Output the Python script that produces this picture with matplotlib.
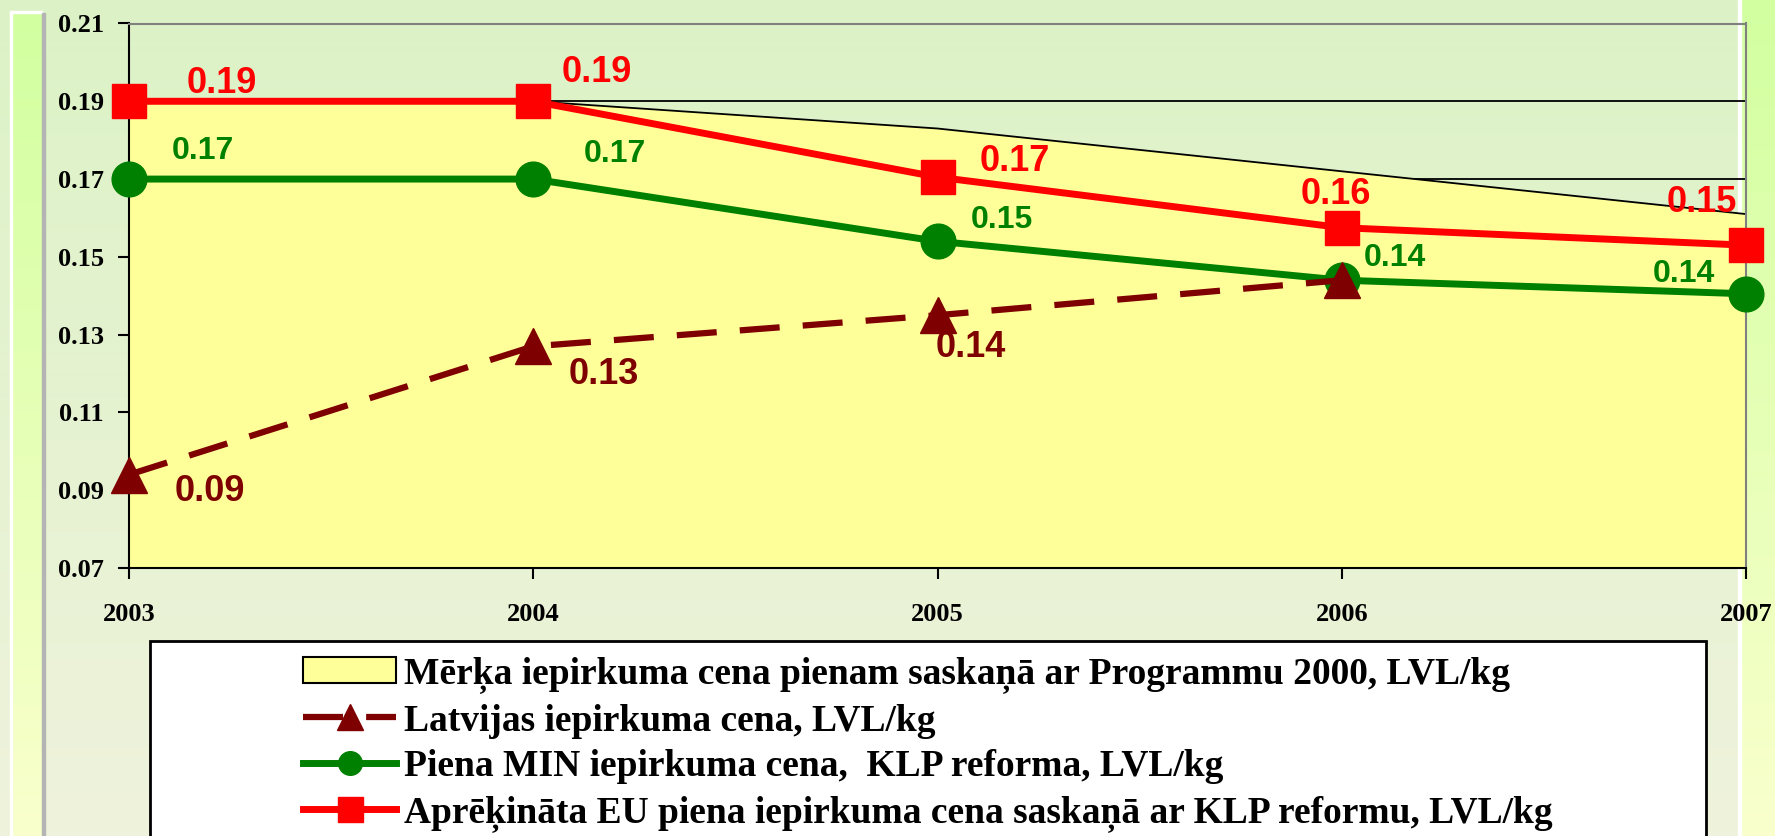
import numpy as np
import matplotlib
matplotlib.use("Agg")
import matplotlib.pyplot as plt
from matplotlib.colors import to_rgb
from matplotlib.patches import Rectangle, Patch
from matplotlib.lines import Line2D
from matplotlib.font_manager import FontProperties

# data
years = [2003, 2004, 2005, 2006, 2007]
target_price = [0.19, 0.19, 0.183, 0.172, 0.161]
latvia_years = [2003, 2004, 2005, 2006]
latvia_price = [0.094, 0.127, 0.135, 0.144]
min_price = [0.17, 0.17, 0.154, 0.144, 0.1405]
eu_price = [0.19, 0.19, 0.1705, 0.1575, 0.153]

latvia_labels = ["0.09", "0.13", "0.14"]
min_labels = ["0.17", "0.17", "0.15", "0.14", "0.14"]
eu_labels = ["0.19", "0.19", "0.17", "0.16", "0.15"]

legend_labels = [
    "Mērķa iepirkuma cena pienam saskaņā ar Programmu 2000, LVL/kg",
    "Latvijas iepirkuma cena, LVL/kg",
    "Piena MIN iepirkuma cena,  KLP reforma, LVL/kg",
    "Aprēķināta EU piena iepirkuma cena saskaņā ar KLP reformu, LVL/kg",
]

# label offsets in points (dx, dy)
latvia_off = [(58, -12), (51, -20), (24, -23)]
min_off = [(53, 20), (59, 18), (46, 15), (38, 16), (-45, 14)]
eu_off = [(67, 13), (46, 21), (56, 11), (-4, 24), (-32, 31)]

W, H = 1775, 836
fig = plt.figure(figsize=(W / 100, H / 100), dpi=100)


def vgrad(c_top, c_bot, n=200):
    t = np.linspace(0, 1, n)[:, None]
    g = np.array(to_rgb(c_top)) * (1 - t) + np.array(to_rgb(c_bot)) * t
    return g.reshape(n, 1, 3)


# slide background
bg = fig.add_axes([0, 0, 1, 1], zorder=-10)
bg.set_axis_off()
bg.imshow(vgrad("#dcf2c6", "#eff2dc"), extent=[0, W, H, 0], aspect="auto")
bg.imshow(vgrad("#d2ffa0", "#f9ffcc"), extent=[12, 42, H, 13], aspect="auto")
bg.imshow(vgrad("#d2ffa0", "#f9ffcc"), extent=[1741, W, H, 0], aspect="auto")
bg.add_patch(Rectangle((10, 11), 2, H, color="white"))
bg.add_patch(Rectangle((10, 11), 32, 2, color="white"))
bg.add_patch(Rectangle((42, 13), 2.5, H, color="#b4b4b4"))
bg.add_patch(Rectangle((1738, 0), 3, H, color="white"))
bg.set_xlim(0, W)
bg.set_ylim(H, 0)

ax = fig.add_axes([129 / W, 1 - 568 / H, (1746 - 129) / W, (568 - 23.5) / H])
ax.set_facecolor("none")
ax.set_xlim(2003, 2007)
ax.set_ylim(0.07, 0.21)
ax.set_xticks(years)
ax.set_yticks(np.arange(0.07, 0.2101, 0.02))
ax.yaxis.set_major_formatter(matplotlib.ticker.FormatStrFormatter("%.2f"))
ax.yaxis.grid(True, color="black", lw=1.3)
ax.set_axisbelow(True)

tick_font = FontProperties(family="Liberation Serif", weight="bold", size=19)
for lab in ax.get_xticklabels() + ax.get_yticklabels():
    lab.set_fontproperties(tick_font)
ax.tick_params(axis="both", direction="out", length=8, width=1.5, color="black")
ax.tick_params(axis="x", pad=17)
ax.tick_params(axis="y", pad=10)

for s in ["left", "bottom"]:
    ax.spines[s].set_color("black")
    ax.spines[s].set_linewidth(1.5)
for s in ["top", "right"]:
    ax.spines[s].set_color("#808080")
    ax.spines[s].set_linewidth(1.5)

# target price area
ax.fill_between(years, 0.07, target_price, facecolor="#ffff99", edgecolor="none", zorder=1)
ax.plot(years, target_price, color="black", lw=1.3, zorder=1.5)

ax.plot(years, min_price, color="#008000", lw=5, marker="o", ms=25, zorder=3, clip_on=False)
ax.plot(latvia_years, latvia_price, color="#7f0000", lw=4.5, dashes=(6.4, 3.7),
        marker="^", ms=26, zorder=4, clip_on=False)
ax.plot(years, eu_price, color="#ff0000", lw=5, marker="s", ms=25, zorder=5, clip_on=False)

for x, y, t, off in zip(latvia_years, latvia_price, latvia_labels, latvia_off):
    ax.annotate(t, (x, y), xytext=off, textcoords="offset points", ha="center", va="center",
                fontsize=26, fontweight="bold", family="Liberation Sans", color="#7f0000",
                zorder=6, annotation_clip=False)
for x, y, t, off in zip(years, min_price, min_labels, min_off):
    ax.annotate(t, (x, y), xytext=off, textcoords="offset points", ha="center", va="center",
                fontsize=23, fontweight="bold", family="Liberation Sans", color="#008000",
                zorder=6, annotation_clip=False)
for x, y, t, off in zip(years, eu_price, eu_labels, eu_off):
    ax.annotate(t, (x, y), xytext=off, textcoords="offset points", ha="center", va="center",
                fontsize=26, fontweight="bold", family="Liberation Sans", color="#ff0000",
                zorder=6, annotation_clip=False)

# legend box (runs off the bottom of the slide)
fig.patches.append(Rectangle((150 / W, 1 - 850 / H), (1706 - 150) / W, (850 - 641) / H,
                             transform=fig.transFigure, facecolor="white",
                             edgecolor="black", lw=2, zorder=1))

handles = [
    Patch(facecolor="#ffff99", edgecolor="black", lw=1.5),
    Line2D([], [], color="#7f0000", lw=4.5, dashes=(6.4, 3.7), marker="^", ms=19),
    Line2D([], [], color="#008000", lw=5, marker="o", ms=17),
    Line2D([], [], color="#ff0000", lw=5, marker="s", ms=18),
]
leg_font = FontProperties(family="Liberation Serif", weight="bold", size=27)
fig.legend(handles, legend_labels, loc="upper center", bbox_to_anchor=(928 / W, 1 - 656 / H),
           frameon=False, prop=leg_font, handlelength=2.48, handletextpad=0.21,
           labelspacing=0.285, borderpad=0, borderaxespad=0)

fig.savefig("out.png", dpi=100)
